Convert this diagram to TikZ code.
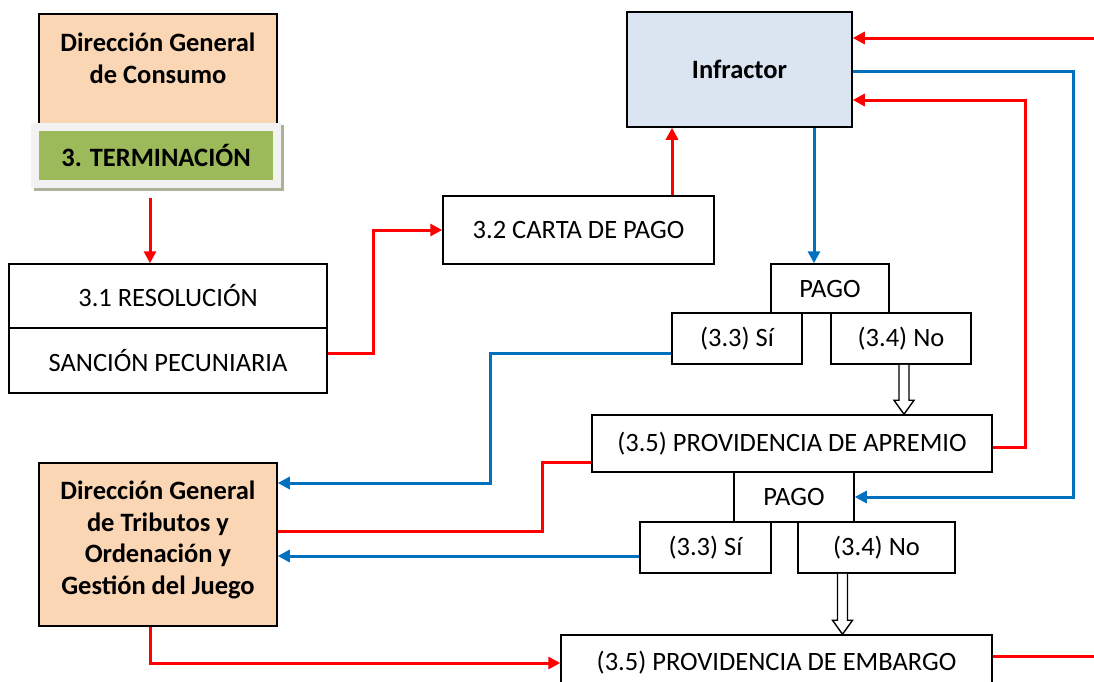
\documentclass[tikz,border=0pt]{standalone}
\usepackage{fontspec}
\setmainfont{Carlito}
\usetikzlibrary{calc}
\usetikzlibrary{arrows.meta}
\definecolor{MyRed}{rgb}{1,0,0}
\definecolor{MyBlue}{rgb}{0,0.44,0.75}
\definecolor{MyPeach}{rgb}{0.98,0.84,0.71}
\definecolor{MyGreen}{rgb}{0.61,0.73,0.35}
\definecolor{MyIce}{rgb}{0.86,0.90,0.95}
\definecolor{MyShade}{rgb}{0.67,0.70,0.60}
\newcommand{\hollowarrow}[2]{\draw[draw=black, line width=1.4pt, fill=white] ($(#1)+(-5,0)$) -- ($(#2)+(-5,-14)$) -- ($(#2)+(-10,-14)$) -- (#2) -- ($(#2)+(10,-14)$) -- ($(#2)+(5,-14)$) -- ($(#1)+(5,0)$);}
\tikzset{
  box/.style={draw=black, line width=1.5pt, inner sep=0pt, align=center, font=\fontsize{26.5}{31.5}\selectfont},
  headtext/.style={align=center, font=\fontsize{26.5}{31.5}\selectfont\bfseries},
  redline/.style={draw=MyRed, line width=3pt},
  blueline/.style={draw=MyBlue, line width=3pt},
  arrowhd/.style={-{Triangle[length=12pt,width=12pt]}}
}

\begin{document}
\begin{tikzpicture}[x=1pt, y=-1pt]
        \useasboundingbox (0,0) rectangle (1094,681);
        \clip (0,0) rectangle (1094,681);
        \node[box, fill=MyPeach, minimum width=238pt, minimum height=113pt] (dgc) at (158,70.5) {};
        \node[headtext] (dgcText) at (158,58.5) {Dirección General\\de Consumo};
        \node[fill=MyShade, minimum width=250pt, minimum height=66pt] (termShade) at (159,158) {};
        \node[fill=gray!10, minimum width=250pt, minimum height=65pt] (termBack) at (156,155.5) {};
        \node[headtext, fill=MyGreen, minimum width=234pt, minimum height=49pt] (term) at (156,155.5) {3. TERMINACIÓN};
        \node[box, minimum width=318pt, minimum height=64pt] (res) at (168,296) {3.1 RESOLUCIÓN};
        \node[box, minimum width=318pt, minimum height=65pt] (sanc) at (168,360.5) {SANCIÓN PECUNIARIA};
        \node[box, minimum width=271pt, minimum height=68pt] (carta) at (578.5,230) {3.2 CARTA DE PAGO};
        \node[box, fill=MyIce, minimum width=225pt, minimum height=115pt, font=\fontsize{26.5}{31.5}\selectfont\bfseries] (inf) at (739.5,69.5) {Infractor};
        \node[box, minimum width=118pt, minimum height=49pt] (pago1) at (830,288.5) {PAGO};
        \node[box, minimum width=130pt, minimum height=51pt] (si1) at (737,338.5) {(3.3) Sí};
        \node[box, minimum width=140pt, minimum height=51pt] (no1) at (901,338.5) {(3.4) No};
        \node[box, minimum width=400pt, minimum height=57pt] (apremio) at (792,443.5) {(3.5) PROVIDENCIA DE APREMIO};
        \node[box, fill=MyPeach, minimum width=238pt, minimum height=163pt] (dgt) at (158,544.5) {};
        \node[headtext] (dgtText) at (158,540) {Dirección General\\de Tributos y\\Ordenación y\\Gestión del Juego};
        \node[box, minimum width=120pt, minimum height=50pt] (pago2) at (794,497) {PAGO};
        \node[box, minimum width=131pt, minimum height=51pt] (si2) at (705.5,547.5) {(3.3) Sí};
        \node[box, minimum width=157pt, minimum height=51pt] (no2) at (876.5,547.5) {(3.4) No};
        \node[box, minimum width=431pt, minimum height=56pt] (embargo) at (776.5,663) {(3.5) PROVIDENCIA DE EMBARGO};
        \coordinate (termOut) at (150,198);
        \coordinate (redIn) at (1094,38);
        \coordinate (redOut) at (1094,656);
        \coordinate (blueRight) at (1073,300);
        \coordinate (redRight) at (1025,300);
        \coordinate (blueLeft) at (490,400);
        \coordinate (redMid) at (542,500);
        \coordinate (redLow) at (373,300);
        \draw [redline, arrowhd] (termOut) -- (termOut |- res.north);
        \draw [redline, arrowhd] ([yshift=7.5pt]sanc.east) -| (redLow) |- (carta.west);
        \draw [redline, arrowhd] ([xshift=93.5pt]carta.north) -- ([xshift=93.5pt]carta.north |- inf.south);
        \draw [redline, arrowhd] (redIn) -- (redIn -| inf.east);
        \draw [blueline, arrowhd] ([yshift=-1.5pt]inf.east) -| (blueRight) |- (pago2.east);
        \draw [redline, arrowhd] ([yshift=-3.5pt]apremio.east) -| (redRight) |- ([yshift=-30.5pt]inf.east);
        \draw [blueline, arrowhd] ([xshift=-16pt]pago1.north |- inf.south) -- ([xshift=-16pt]pago1.north);
        \draw [blueline, arrowhd] ([yshift=-14.5pt]si1.west) -| (blueLeft) |- ([yshift=61.5pt]dgt.east);
        \draw [redline] ([yshift=13.5pt]dgt.east) -| (redMid) |- ([yshift=-18.5pt]apremio.west);
        \draw [blueline, arrowhd] ([yshift=-8.5pt]si2.west) -- ([yshift=-8.5pt]si2.west -| dgt.east);
        \draw [redline, arrowhd] ([xshift=-8pt]dgt.south) |- (embargo.west);
        \draw [redline] ([yshift=7pt]embargo.east) -- (redOut);
        \coordinate (hollowTopA) at ([xshift=3pt]no1.south);
        \coordinate (hollowEndA) at (hollowTopA |- apremio.north);
        \hollowarrow{hollowTopA}{hollowEndA}
        \coordinate (hollowTopB) at ([xshift=-34pt]no2.south);
        \coordinate (hollowEndB) at (hollowTopB |- embargo.north);
        \hollowarrow{hollowTopB}{hollowEndB}
      \end{tikzpicture}
\end{document}
